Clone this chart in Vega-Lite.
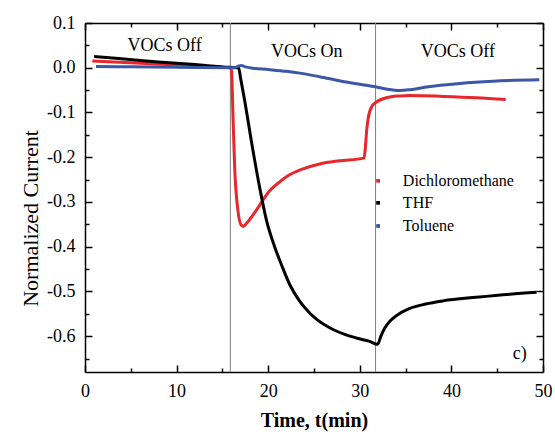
{
  "$schema": "https://vega.github.io/schema/vega-lite/v6.json",
  "width": 458,
  "height": 349,
  "autosize": {"type": "none"},
  "padding": {"left": 85, "top": 23, "right": 12, "bottom": 62},
  "config": {
    "view": {"stroke": null},
    "locale": {"number": {"decimal": ".", "thousands": ",", "grouping": [3], "currency": ["$", ""], "minus": "-"}}
  },
  "datasets": {
    "curves": [
      {"t": 1.0, "v": 0.025, "s": "THF"},
      {"t": 4.0, "v": 0.020, "s": "THF"},
      {"t": 8.0, "v": 0.013, "s": "THF"},
      {"t": 12.0, "v": 0.007, "s": "THF"},
      {"t": 15.8, "v": 0.001, "s": "THF"},
      {"t": 16.77, "v": 0.0, "s": "THF"},
      {"t": 17.0, "v": -0.025, "s": "THF"},
      {"t": 17.43, "v": -0.073, "s": "THF"},
      {"t": 18.17, "v": -0.165, "s": "THF"},
      {"t": 19.07, "v": -0.268, "s": "THF"},
      {"t": 19.8, "v": -0.34, "s": "THF"},
      {"t": 20.7, "v": -0.4, "s": "THF"},
      {"t": 21.5, "v": -0.443, "s": "THF"},
      {"t": 22.36, "v": -0.485, "s": "THF"},
      {"t": 23.45, "v": -0.522, "s": "THF"},
      {"t": 24.53, "v": -0.548, "s": "THF"},
      {"t": 25.27, "v": -0.562, "s": "THF"},
      {"t": 27.07, "v": -0.585, "s": "THF"},
      {"t": 28.5, "v": -0.597, "s": "THF"},
      {"t": 29.63, "v": -0.604, "s": "THF"},
      {"t": 30.35, "v": -0.608, "s": "THF"},
      {"t": 31.0, "v": -0.611, "s": "THF"},
      {"t": 31.95, "v": -0.618, "s": "THF"},
      {"t": 32.3, "v": -0.6, "s": "THF"},
      {"t": 32.7, "v": -0.583, "s": "THF"},
      {"t": 33.3, "v": -0.566, "s": "THF"},
      {"t": 34.0, "v": -0.554, "s": "THF"},
      {"t": 35.45, "v": -0.538, "s": "THF"},
      {"t": 37.2, "v": -0.528, "s": "THF"},
      {"t": 39.1, "v": -0.521, "s": "THF"},
      {"t": 42.7, "v": -0.513, "s": "THF"},
      {"t": 46.4, "v": -0.506, "s": "THF"},
      {"t": 49.3, "v": -0.502, "s": "THF"},

      {"t": 0.8, "v": 0.015, "s": "Dichloromethane"},
      {"t": 5.0, "v": 0.011, "s": "Dichloromethane"},
      {"t": 10.0, "v": 0.006, "s": "Dichloromethane"},
      {"t": 15.8, "v": 0.0, "s": "Dichloromethane"},
      {"t": 15.98, "v": -0.002, "s": "Dichloromethane"},
      {"t": 16.16, "v": -0.111, "s": "Dichloromethane"},
      {"t": 16.34, "v": -0.223, "s": "Dichloromethane"},
      {"t": 16.7, "v": -0.32, "s": "Dichloromethane"},
      {"t": 17.07, "v": -0.352, "s": "Dichloromethane"},
      {"t": 17.3, "v": -0.354, "s": "Dichloromethane"},
      {"t": 17.62, "v": -0.348, "s": "Dichloromethane"},
      {"t": 18.71, "v": -0.318, "s": "Dichloromethane"},
      {"t": 20.16, "v": -0.275, "s": "Dichloromethane"},
      {"t": 21.26, "v": -0.255, "s": "Dichloromethane"},
      {"t": 22.2, "v": -0.241, "s": "Dichloromethane"},
      {"t": 23.8, "v": -0.226, "s": "Dichloromethane"},
      {"t": 25.62, "v": -0.215, "s": "Dichloromethane"},
      {"t": 27.8, "v": -0.208, "s": "Dichloromethane"},
      {"t": 30.45, "v": -0.202, "s": "Dichloromethane"},
      {"t": 30.6, "v": -0.18, "s": "Dichloromethane"},
      {"t": 30.75, "v": -0.14, "s": "Dichloromethane"},
      {"t": 30.9, "v": -0.115, "s": "Dichloromethane"},
      {"t": 31.27, "v": -0.088, "s": "Dichloromethane"},
      {"t": 31.81, "v": -0.077, "s": "Dichloromethane"},
      {"t": 32.9, "v": -0.067, "s": "Dichloromethane"},
      {"t": 34.36, "v": -0.063, "s": "Dichloromethane"},
      {"t": 35.45, "v": -0.062, "s": "Dichloromethane"},
      {"t": 39.09, "v": -0.064, "s": "Dichloromethane"},
      {"t": 42.73, "v": -0.067, "s": "Dichloromethane"},
      {"t": 45.93, "v": -0.071, "s": "Dichloromethane"},

      {"t": 1.2, "v": 0.003, "s": "Toluene"},
      {"t": 5.0, "v": 0.002, "s": "Toluene"},
      {"t": 10.0, "v": 0.001, "s": "Toluene"},
      {"t": 15.8, "v": 0.0, "s": "Toluene"},
      {"t": 16.3, "v": 0.0, "s": "Toluene"},
      {"t": 16.8, "v": 0.004, "s": "Toluene"},
      {"t": 17.07, "v": 0.005, "s": "Toluene"},
      {"t": 17.5, "v": 0.002, "s": "Toluene"},
      {"t": 18.34, "v": -0.001, "s": "Toluene"},
      {"t": 20.0, "v": -0.004, "s": "Toluene"},
      {"t": 21.99, "v": -0.008, "s": "Toluene"},
      {"t": 23.45, "v": -0.012, "s": "Toluene"},
      {"t": 25.62, "v": -0.02, "s": "Toluene"},
      {"t": 28.0, "v": -0.03, "s": "Toluene"},
      {"t": 30.0, "v": -0.037, "s": "Toluene"},
      {"t": 31.81, "v": -0.043, "s": "Toluene"},
      {"t": 33.0, "v": -0.048, "s": "Toluene"},
      {"t": 34.36, "v": -0.051, "s": "Toluene"},
      {"t": 35.5, "v": -0.049, "s": "Toluene"},
      {"t": 37.27, "v": -0.043, "s": "Toluene"},
      {"t": 40.9, "v": -0.035, "s": "Toluene"},
      {"t": 44.54, "v": -0.03, "s": "Toluene"},
      {"t": 49.6, "v": -0.027, "s": "Toluene"}
    ],
    "switches": [
      {"t": 15.87},
      {"t": 31.72}
    ],
    "phases": [
      {"t": 8.7, "v": 0.037, "label": "VOCs Off"},
      {"t": 24.2, "v": 0.025, "label": "VOCs On"},
      {"t": 40.7, "v": 0.025, "label": "VOCs Off"},
      {"t": 47.45, "v": -0.652, "label": "c)"}
    ],
    "key": [
      {"t": 32.0, "tl": 34.7, "v": -0.2525, "s": "Dichloromethane"},
      {"t": 32.0, "tl": 34.7, "v": -0.3017, "s": "THF"},
      {"t": 32.0, "tl": 34.7, "v": -0.3537, "s": "Toluene"}
    ]
  },
  "layer": [
    {
      "data": {"name": "phases"},
      "mark": {"type": "text", "font": "Liberation Serif", "fontSize": 18, "color": "black", "baseline": "alphabetic", "align": "center"},
      "encoding": {
        "x": {
          "field": "t",
          "type": "quantitative",
          "scale": {"domain": [0, 50], "nice": false, "zero": false},
          "axis": {
            "orient": "bottom",
            "grid": false,
            "domainColor": "black",
            "domainWidth": 1.5,
            "tickColor": "black",
            "tickWidth": 1.5,
            "tickSize": -7,
            "values": [0, 10, 20, 30, 40, 50],
            "labelFont": "Liberation Serif",
            "labelFontSize": 18,
            "labelColor": "black",
            "labelPadding": 17,
            "labelFlush": false,
            "title": "Time, t(min)",
            "titleFont": "Liberation Serif",
            "titleColor": "black",
            "titleFontSize": 20,
            "titleFontWeight": "bold",
            "titlePadding": 10
          }
        },
        "y": {
          "field": "v",
          "type": "quantitative",
          "scale": {"domain": [-0.68, 0.1], "nice": false, "zero": false},
          "axis": {
            "orient": "left",
            "grid": false,
            "domainColor": "black",
            "domainWidth": 1.5,
            "tickColor": "black",
            "tickWidth": 1.5,
            "tickSize": -7,
            "values": [-0.6, -0.5, -0.4, -0.3, -0.2, -0.1, 0, 0.1],
            "format": ".1f",
            "labelFont": "Liberation Serif",
            "labelFontSize": 18,
            "labelColor": "black",
            "labelPadding": 17,
            "labelFlush": false,
            "title": "Normalized Current",
            "titleFont": "Liberation Serif",
            "titleColor": "black",
            "titleFontSize": 22,
            "titleFontWeight": "normal",
            "titlePadding": 4,
            "titleY": 195
          }
        },
        "text": {"field": "label", "type": "nominal"}
      }
    },
    {
      "data": {"name": "key"},
      "mark": {"type": "text", "font": "Liberation Serif", "fontSize": 16, "color": "black", "baseline": "middle", "align": "left"},
      "encoding": {
        "x": {
          "field": "tl",
          "type": "quantitative",
          "axis": {
            "orient": "top",
            "grid": false,
            "domainColor": "black",
            "domainWidth": 1.5,
            "tickColor": "black",
            "tickWidth": 1.5,
            "tickSize": -7,
            "values": [0, 10, 20, 30, 40, 50],
            "labels": false,
            "title": null
          }
        },
        "y": {
          "field": "v",
          "type": "quantitative",
          "axis": {
            "orient": "right",
            "grid": false,
            "domainColor": "black",
            "domainWidth": 1.5,
            "tickColor": "black",
            "tickWidth": 1.5,
            "tickSize": -7,
            "values": [-0.6, -0.5, -0.4, -0.3, -0.2, -0.1, 0, 0.1],
            "labels": false,
            "title": null
          }
        },
        "text": {"field": "s", "type": "nominal"}
      }
    },
    {
      "data": {"name": "key"},
      "mark": {"type": "point", "shape": "square", "filled": true, "size": 12, "opacity": 1},
      "encoding": {
        "x": {
          "field": "t",
          "type": "quantitative",
          "axis": {
            "orient": "bottom",
            "grid": false,
            "domain": false,
            "tickColor": "black",
            "tickWidth": 1.5,
            "tickSize": -4,
            "values": [5, 15, 25, 35, 45],
            "labels": false,
            "title": null
          }
        },
        "y": {
          "field": "v",
          "type": "quantitative",
          "axis": {
            "orient": "left",
            "grid": false,
            "domain": false,
            "tickColor": "black",
            "tickWidth": 1.5,
            "tickSize": -4,
            "values": [-0.65, -0.55, -0.45, -0.35, -0.25, -0.15, -0.05, 0.05],
            "labels": false,
            "title": null
          }
        },
        "color": {
          "field": "s",
          "type": "nominal",
          "scale": {"domain": ["Dichloromethane", "THF", "Toluene"], "range": ["#e8262b", "#000000", "#3c57a8"]},
          "legend": null
        }
      }
    },
    {
      "data": {"name": "key"},
      "mark": {"type": "point", "shape": "square", "filled": true, "size": 12, "opacity": 1},
      "encoding": {
        "x": {
          "field": "t",
          "type": "quantitative",
          "axis": {
            "orient": "top",
            "grid": false,
            "domain": false,
            "tickColor": "black",
            "tickWidth": 1.5,
            "tickSize": -4,
            "values": [5, 15, 25, 35, 45],
            "labels": false,
            "title": null
          }
        },
        "y": {
          "field": "v",
          "type": "quantitative",
          "axis": {
            "orient": "right",
            "grid": false,
            "domain": false,
            "tickColor": "black",
            "tickWidth": 1.5,
            "tickSize": -4,
            "values": [-0.65, -0.55, -0.45, -0.35, -0.25, -0.15, -0.05, 0.05],
            "labels": false,
            "title": null
          }
        },
        "color": {"field": "s", "type": "nominal", "legend": null}
      }
    },
    {
      "data": {"name": "switches"},
      "mark": {"type": "rule", "color": "#808080", "strokeWidth": 1},
      "encoding": {
        "x": {"field": "t", "type": "quantitative", "axis": null}
      }
    },
    {
      "data": {"name": "curves"},
      "transform": [{"filter": "datum.s === 'Dichloromethane'"}],
      "mark": {"type": "line", "strokeWidth": 3, "interpolate": "monotone", "color": "#e8262b"},
      "encoding": {
        "x": {"field": "t", "type": "quantitative", "axis": null},
        "y": {"field": "v", "type": "quantitative", "axis": null}
      }
    },
    {
      "data": {"name": "curves"},
      "transform": [{"filter": "datum.s === 'THF'"}],
      "mark": {"type": "line", "strokeWidth": 3, "interpolate": "monotone", "color": "#000000"},
      "encoding": {
        "x": {"field": "t", "type": "quantitative", "axis": null},
        "y": {"field": "v", "type": "quantitative", "axis": null}
      }
    },
    {
      "data": {"name": "curves"},
      "transform": [{"filter": "datum.s === 'Toluene'"}],
      "mark": {"type": "line", "strokeWidth": 3, "interpolate": "monotone", "color": "#3c57a8"},
      "encoding": {
        "x": {"field": "t", "type": "quantitative", "axis": null},
        "y": {"field": "v", "type": "quantitative", "axis": null}
      }
    }
  ],
  "resolve": {"axis": {"x": "independent", "y": "independent"}}
}
